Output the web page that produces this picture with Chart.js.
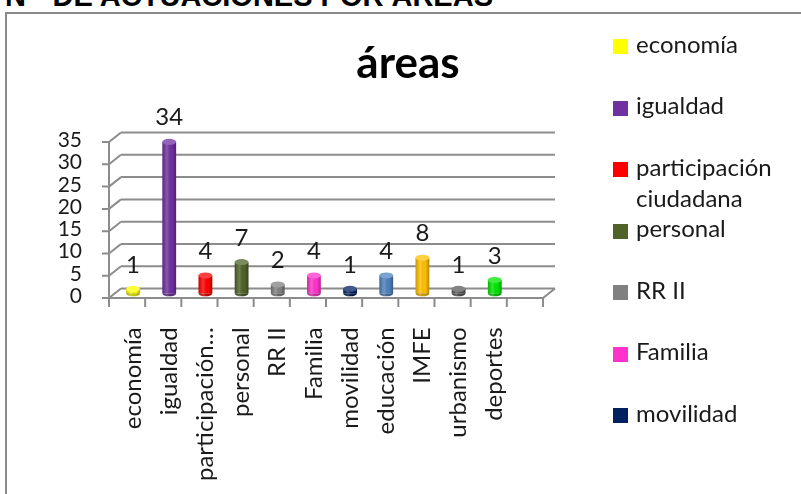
<!DOCTYPE html>
<html>
<head>
<meta charset="utf-8">
<script src="https://cdn.jsdelivr.net/npm/chart.js@4.4.1/dist/chart.umd.min.js"></script>
<style>
  html, body { margin: 0; padding: 0; background: #fff; }
  body { width: 801px; height: 494px; position: relative; overflow: hidden; font-family: Lato, sans-serif; }
  .frame { position: absolute; left: 5px; top: 12px; width: 830px; height: 520px; border-left: 2px solid #8a8a8a; border-top: 2px solid #8a8a8a; }
  .header { position: absolute; right: 308px; top: -18px; font: bold 29px "Liberation Sans", Arial, sans-serif; line-height: 29px; white-space: nowrap; color: #000; }
  .title { position: absolute; left: 308px; width: 200px; top: 35px; text-align: center; font: bold 44px Lato, sans-serif; line-height: 53px; color: #000; }
  #wrap { position: absolute; left: 0; top: 0; width: 801px; height: 494px; }
  .leg-box { position: absolute; left: 613px; width: 15px; height: 15px; }
  .leg-text { position: absolute; left: 636px; width: 150px; font-size: 24px; line-height: 31.5px; color: #1a1a1a; }
</style>
</head>
<body>
<div class="frame"></div>
<div class="header">Nº&nbsp; DE ACTUACIONES POR ÁREAS</div>
<div id="wrap"><canvas id="graph"></canvas></div>
<div class="title">áreas</div>
<div id="legend"></div>
<script>
const categories = ['economía', 'igualdad', 'participación ciudadana', 'personal', 'RR II', 'Familia',
    'movilidad', 'educación', 'IMFE', 'urbanismo', 'deportes', ''];
const values = [1, 34, 4, 7, 2, 4, 1, 4, 8, 1, 3, null];
const colors = ['#FFFF00', '#7030A0', '#FF0000', '#4F6228', '#808080', '#FF33CC',
    '#002060', '#4F81BD', '#FFC000', '#595959', '#00E600', '#FFFFFF'];
const yTicks = [0, 5, 10, 15, 20, 25, 30, 35];
const legendShown = 7; // the rest of the legend is cut off in the picture

// half of the 3d depth
const dx = 6;
const dy = 4.75;
const lineCol = '#8c8c8c';

const legend = document.getElementById('legend');
categories.slice(0, legendShown).forEach((c, i) => {
    const box = document.createElement('div');
    box.className = 'leg-box';
    box.style.top = (39.2 + i * 61.5) + 'px';
    box.style.background = colors[i];
    const txt = document.createElement('div');
    txt.className = 'leg-text';
    txt.style.top = (27.7 + i * 61.5) + 'px';
    txt.textContent = c;
    legend.appendChild(box);
    legend.appendChild(txt);
});

const shade = (hex, f) => {
    const n = parseInt(hex.slice(1), 16);
    let r = n >> 16, g = (n >> 8) & 255, b = n & 255;
    if (f > 0) { r += (255 - r) * f; g += (255 - g) * f; b += (255 - b) * f; }
    else { r *= 1 + f; g *= 1 + f; b *= 1 + f; }
    return 'rgb(' + Math.round(r) + ',' + Math.round(g) + ',' + Math.round(b) + ')';
};

const box3d = {
    id: 'box3d',
    beforeDatasetsDraw(chart) {
        const c = chart.ctx;
        const ys = chart.scales.y;
        const L = chart.chartArea.left, R = chart.chartArea.right;
        const y0 = ys.getPixelForValue(0);
        const yTop = ys.getPixelForValue(35);
        c.save();
        c.strokeStyle = lineCol;
        c.lineWidth = 2;
        c.beginPath();
        yTicks.forEach(v => {
            const y = ys.getPixelForValue(v);
            // back wall
            c.moveTo(L + dx, y - dy);
            c.lineTo(R + dx, y - dy);
            // side wall
            c.moveTo(L - dx, y + dy);
            c.lineTo(L + dx, y - dy);
            // tick marks on front axis
            c.moveTo(L - dx - 7, y + dy);
            c.lineTo(L - dx, y + dy);
        });
        // front axis
        c.moveTo(L - dx, yTop + dy);
        c.lineTo(L - dx, y0 + dy);
        // floor front edge + right side
        c.moveTo(L - dx, y0 + dy);
        c.lineTo(R - dx, y0 + dy);
        c.lineTo(R + dx, y0 - dy);
        // category ticks
        const w = (R - L) / categories.length;
        for (let i = 0; i <= categories.length; i++) {
            const x = L - dx + i * w;
            c.moveTo(x, y0 + dy);
            c.lineTo(x, y0 + dy + 9);
        }
        c.stroke();
        c.restore();
    },
    afterDatasetsDraw(chart) {
        const c = chart.ctx;
        const meta = chart.getDatasetMeta(0);
        c.save();
        meta.data.forEach((bar, i) => {
            if (values[i] == null) return;
            const hw = bar.width / 2;
            const ry = 3;
            c.fillStyle = shade(colors[i], -0.2);
            c.beginPath();
            c.ellipse(bar.x, bar.base, hw, ry, 0, 0, Math.PI);
            c.fill();
            const g = c.createLinearGradient(bar.x - hw, 0, bar.x + hw, 0);
            g.addColorStop(0, 'rgba(0,0,0,0.22)');
            g.addColorStop(0.35, 'rgba(255,255,255,0.18)');
            g.addColorStop(0.7, 'rgba(0,0,0,0)');
            g.addColorStop(1, 'rgba(0,0,0,0.3)');
            c.fillStyle = g;
            c.beginPath();
            c.moveTo(bar.x - hw, bar.y);
            c.lineTo(bar.x - hw, bar.base);
            c.ellipse(bar.x, bar.base, hw, ry, 0, Math.PI, 0, true);
            c.lineTo(bar.x + hw, bar.y);
            c.closePath();
            c.fill();
            c.fillStyle = shade(colors[i], 0.25);
            c.beginPath();
            c.ellipse(bar.x, bar.y, hw, ry, 0, 0, Math.PI * 2);
            c.fill();
            c.fillStyle = '#1a1a1a';
            c.font = '24px Lato';
            c.textAlign = 'center';
            c.textBaseline = 'middle';
            c.fillText(values[i], bar.x, bar.y - 24);
        });
        c.restore();
    }
};

const ctx = document.getElementById('graph').getContext('2d');
Chart.defaults.font.family = 'Lato';
Chart.defaults.color = '#1a1a1a';

const myChart = new Chart(ctx, {
    type: 'bar',
    data: {
        labels: categories,
        datasets: [{
            label: 'áreas',
            data: values,
            backgroundColor: colors,
            borderWidth: 0,
            barPercentage: 0.38,
            categoryPercentage: 1
        }]
    },
    options: {
        responsive: true,
        maintainAspectRatio: false,
        animation: false,
        layout: { padding: { left: 40, right: 252, top: 137.3, bottom: 10.7 } },
        plugins: {
            legend: { display: false },
            tooltip: { enabled: false }
        },
        scales: {
            x: {
                grid: { display: false, drawTicks: false },
                border: { display: false },
                ticks: {
                    autoSkip: false,
                    minRotation: 90,
                    maxRotation: 90,
                    padding: 34,
                    font: { size: 24 },
                    callback: function (v, i) {
                        const s = categories[i];
                        return s.length > 14 ? s.slice(0, 13) + '…' : s;
                    }
                },
                afterFit: s => { s.height = 190; }
            },
            y: {
                min: 0,
                max: 35,
                grid: { display: false, drawTicks: false },
                border: { display: false },
                ticks: {
                    autoSkip: false,
                    stepSize: 5,
                    padding: 33,
                    labelOffset: 3,
                    font: { size: 21 }
                },
                afterFit: s => { s.width = 75; }
            }
        }
    },
    plugins: [box3d]
});
</script>
</body>
</html>
